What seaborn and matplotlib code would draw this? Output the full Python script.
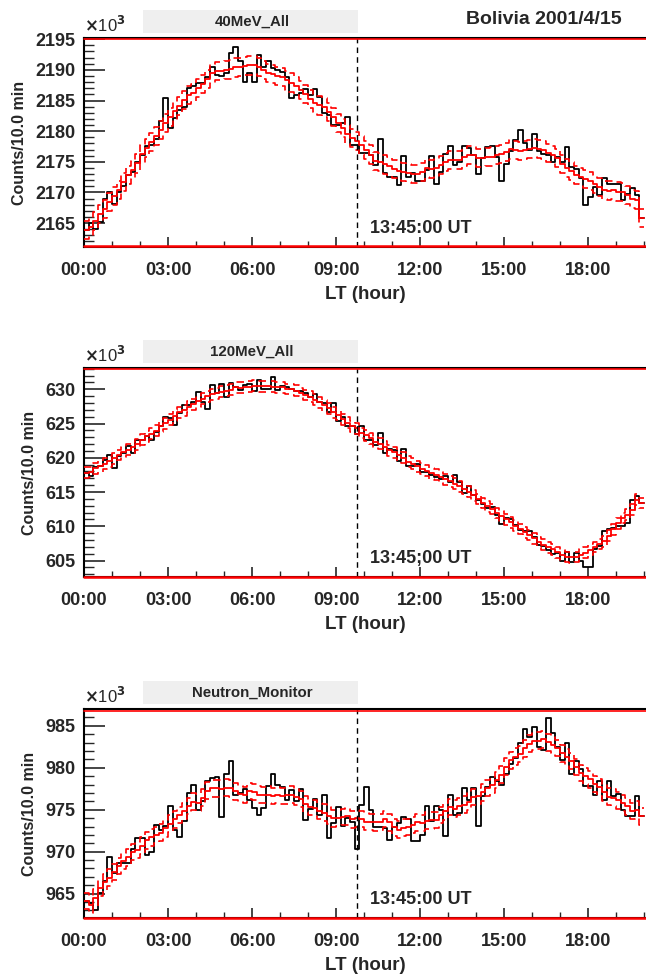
import numpy as np
import pandas as pd
import matplotlib
matplotlib.use("Agg")
import matplotlib.pyplot as plt
import matplotlib.transforms as mtransforms
import seaborn as sns
from matplotlib.patches import Rectangle
from matplotlib.ticker import MultipleLocator, FuncFormatter

# ---------------- data (10-min bins, units of 10^3 counts) ----------------
bin_hours = 1.0 / 6.0
counts_40mev = [
    2163.9, 2165.0, 2164.0, 2165.2, 2169.0, 2170.0, 2168.1, 2170.0, 2171.0, 2172.8,
    2173.4, 2175.0, 2176.1, 2177.5, 2177.7, 2178.8, 2181.6, 2185.4, 2180.5, 2182.1,
    2183.5, 2183.9, 2187.0, 2187.3, 2187.8, 2187.8, 2188.9, 2190.4, 2189.2, 2189.0,
    2189.5, 2192.8, 2193.8, 2191.4, 2188.1, 2189.5, 2188.1, 2192.5, 2190.5, 2191.4,
    2190.3, 2190.0, 2189.7, 2188.9, 2185.4, 2185.9, 2186.2, 2186.8, 2185.9, 2186.8,
    2185.6, 2183.0, 2182.6, 2181.0, 2181.0, 2181.3, 2182.3, 2177.7, 2177.7, 2176.4,
    2176.4, 2176.1, 2174.5, 2178.7, 2173.1, 2172.6, 2172.6, 2171.2, 2176.0, 2172.6,
    2173.1, 2171.8, 2171.8, 2173.7, 2176.0, 2171.4, 2173.4, 2176.3, 2177.5, 2174.5,
    2175.0, 2177.5, 2177.2, 2176.1, 2173.0, 2175.7, 2177.4, 2177.5, 2175.8, 2171.8,
    2174.7, 2176.7, 2178.6, 2180.2, 2178.0, 2176.9, 2179.5, 2176.7, 2176.3, 2176.1,
    2175.0, 2175.8, 2175.0, 2177.4, 2174.2, 2173.8, 2172.3, 2167.9, 2169.3, 2170.9,
    2169.6, 2172.3, 2171.4, 2171.4, 2171.4, 2168.8, 2169.8, 2170.7, 2169.6, 2165.8,
]
counts_120mev = [
    617.8, 617.3, 618.7, 618.8, 619.7, 620.4, 618.5, 620.2, 620.7, 621.7,
    620.7, 622.6, 622.6, 623.2, 622.6, 623.8, 624.7, 625.9, 625.8, 624.8,
    626.6, 627.7, 627.7, 628.1, 629.6, 628.2, 627.1, 630.6, 629.4, 630.8,
    628.8, 630.9, 630.4, 629.9, 630.6, 630.8, 629.7, 631.3, 630.1, 630.0,
    631.8, 629.9, 630.5, 630.3, 630.0, 629.7, 629.7, 629.5, 628.9, 629.3,
    628.2, 628.0, 626.7, 628.0, 625.3, 626.0, 624.6, 624.6, 623.4, 624.6,
    622.6, 622.6, 621.9, 623.6, 620.7, 621.3, 621.1, 619.5, 621.3, 618.8,
    618.8, 619.1, 617.9, 617.9, 617.5, 617.2, 616.9, 617.3, 616.4, 617.5,
    616.4, 614.8, 615.9, 614.6, 613.9, 613.3, 612.7, 612.8, 611.6, 610.4,
    611.2, 611.1, 610.2, 609.5, 609.3, 609.3, 608.5, 607.3, 607.1, 606.6,
    605.9, 606.1, 604.9, 606.2, 604.8, 606.1, 604.9, 604.1, 604.1, 606.7,
    607.1, 609.3, 609.6, 609.8, 610.0, 610.0, 610.5, 613.9, 614.4, 613.4,
]
counts_neutron = [
    964.1, 963.9, 963.1, 965.1, 966.5, 969.4, 967.5, 968.7, 968.7, 968.7,
    970.3, 971.6, 971.6, 969.6, 970.0, 973.2, 972.6, 973.1, 975.4, 972.6,
    971.8, 973.6, 977.0, 978.0, 975.0, 976.0, 978.4, 978.8, 978.9, 974.1,
    979.3, 980.8, 976.8, 977.0, 977.5, 976.2, 975.2, 974.4, 975.2, 977.8,
    979.2, 977.9, 977.7, 976.2, 977.4, 976.0, 977.5, 973.8, 975.1, 976.3,
    974.4, 976.7, 971.6, 973.4, 975.3, 973.1, 974.0, 973.5, 970.3, 975.6,
    977.7, 975.0, 972.9, 972.9, 972.8, 971.4, 973.0, 973.4, 974.1, 973.9,
    971.3, 971.3, 972.0, 975.4, 973.6, 975.5, 975.0, 971.9, 976.8, 974.4,
    974.6, 977.6, 976.2, 977.6, 973.1, 976.6, 977.7, 978.9, 978.4, 977.9,
    979.2, 980.4, 981.2, 982.9, 984.6, 983.7, 984.9, 982.5, 982.1, 985.9,
    984.1, 982.5, 980.9, 983.0, 979.3, 980.8, 979.8, 977.8, 977.8, 976.8,
    978.4, 976.1, 978.4, 976.6, 976.9, 975.0, 974.2, 974.2, 976.6, 974.2,
]
panel_titles = ["40MeV_All", "120MeV_All", "Neutron_Monitor"]
ut_labels = ["13:45:00 UT", "13:45;00 UT", "13:45:00 UT"]
ylims = [(2161.1, 2195.2), (602.6, 633.1), (962.1, 987.0)]
event_lt = 9.75
xmax = 20.07


def smooth(v, h=5):
    """Symmetric moving average whose window shrinks near the edges."""
    v = np.asarray(v, dtype=float)
    n = len(v)
    out = np.empty(n)
    for i in range(n):
        w = min(h, i, n - 1 - i)
        out[i] = v[i - w:i + w + 1].mean()
    return out


# ---------------- style ----------------
sns.set_theme(style="white")
plt.rcParams["font.family"] = ["Liberation Sans", "DejaVu Sans"]
plt.rcParams["font.weight"] = "bold"

W, H = 646, 977
fig = plt.figure(figsize=(W / 100, H / 100), dpi=100)

tops = [38, 368, 709]
ax_h = 209
left_px = 84
box_top = [10, 340, 681]

for k, (vals, title, utl, yl, tp) in enumerate(
        zip([counts_40mev, counts_120mev, counts_neutron], panel_titles, ut_labels, ylims, tops)):
    ax = fig.add_axes([left_px / W, 1 - (tp + ax_h) / H, (W - left_px) / W, ax_h / H])
    n = len(vals)
    edges = np.arange(n + 1) * bin_hours
    data = np.asarray(vals, dtype=float)
    fit = smooth(data, 5)
    err = np.sqrt(fit * 1000.0) / 1000.0
    ext = lambda a: np.append(np.asarray(a), np.asarray(a)[-1])
    df = pd.DataFrame({
        "t": edges,
        "data": ext(data),
        "fit": ext(fit),
        "hi": ext(fit + err),
        "lo": ext(fit - err),
    })
    sns.lineplot(data=df, x="t", y="data", ax=ax, color="black", lw=1.3,
                 drawstyle="steps-post", estimator=None, sort=False, zorder=3)
    sns.lineplot(data=df, x="t", y="fit", ax=ax, color="#ff0000", lw=1.3,
                 drawstyle="steps-post", estimator=None, sort=False, zorder=4)
    for col in ("hi", "lo"):
        sns.lineplot(data=df, x="t", y=col, ax=ax, color="#ff0000", lw=1.2,
                     drawstyle="steps-post", linestyle=(0, (4.5, 3)),
                     estimator=None, sort=False, zorder=4)

    ax.set_xlim(0, xmax)
    ax.set_ylim(*yl)
    ax.axvline(event_lt, color="black", lw=1.0, linestyle=(0, (4, 3)), zorder=5)
    off_dn = mtransforms.offset_copy(ax.transAxes, fig=fig, x=0, y=-1.5, units="dots")
    off_up = mtransforms.offset_copy(ax.transAxes, fig=fig, x=0, y=0.5, units="dots")
    ax.plot([0, 1], [1, 1], transform=off_dn, color="#ff0000", lw=1.2, zorder=6,
            clip_on=False)
    ax.plot([0, 1], [0, 0], transform=off_up, color="#ff0000", lw=1.8, zorder=7,
            clip_on=False)

    ax.xaxis.set_major_locator(MultipleLocator(3))
    ax.xaxis.set_minor_locator(MultipleLocator(1))
    ax.xaxis.set_major_formatter(FuncFormatter(lambda v, p: f"{int(round(v)):02d}:00"))
    ax.yaxis.set_major_locator(MultipleLocator(5))
    ax.yaxis.set_minor_locator(MultipleLocator(1))
    ax.yaxis.set_major_formatter(FuncFormatter(lambda v, p: f"{int(round(v))}"))
    ax.tick_params(axis="x", which="major", direction="in", length=7, width=1.2,
                   pad=11, labelsize=13, bottom=True, top=False)
    ax.tick_params(axis="x", which="minor", direction="in", length=4, width=1.0,
                   bottom=True, top=False)
    ax.tick_params(axis="y", which="major", direction="in", length=15, width=1.2,
                   pad=6, labelsize=13, left=True, right=False)
    ax.tick_params(axis="y", which="minor", direction="in", length=7, width=1.0,
                   left=True, right=False)
    for lab in ax.get_xticklabels() + ax.get_yticklabels():
        lab.set_fontweight("bold")
    for sp in ("left", "bottom", "top"):
        ax.spines[sp].set_color("black")
        ax.spines[sp].set_linewidth(1.5)
    ax.spines["right"].set_visible(False)

    ax.set_xlabel("LT (hour)", fontsize=13.5, fontweight="bold", labelpad=5)
    ax.set_ylabel("Counts/10.0 min", fontsize=11.5, fontweight="bold", labelpad=6)
    ax.text((370 - left_px) / (W - left_px), 0.09, utl,
            transform=ax.transAxes, fontsize=13, fontweight="bold",
            ha="left", va="center", zorder=8)

    # title box
    fig.patches.append(Rectangle((143 / W, 1 - (box_top[k] + 23) / H), 215 / W, 23 / H,
                                 transform=fig.transFigure, facecolor="#efefef",
                                 edgecolor="none", zorder=0))
    fig.text(252 / W, 1 - (box_top[k] + 11.5) / H, title, fontsize=10.8,
             fontweight="bold", ha="center", va="center")
    fig.text(84 / W, 1 - (tp - 13) / H, r"$\times$10$^{3}$", fontsize=12,
             fontweight="normal", ha="left", va="center")

fig.text(544 / W, 1 - 20 / H, "Bolivia 2001/4/15", fontsize=14, fontweight="bold",
         ha="center", va="center")

fig.savefig("out.png", dpi=100)
